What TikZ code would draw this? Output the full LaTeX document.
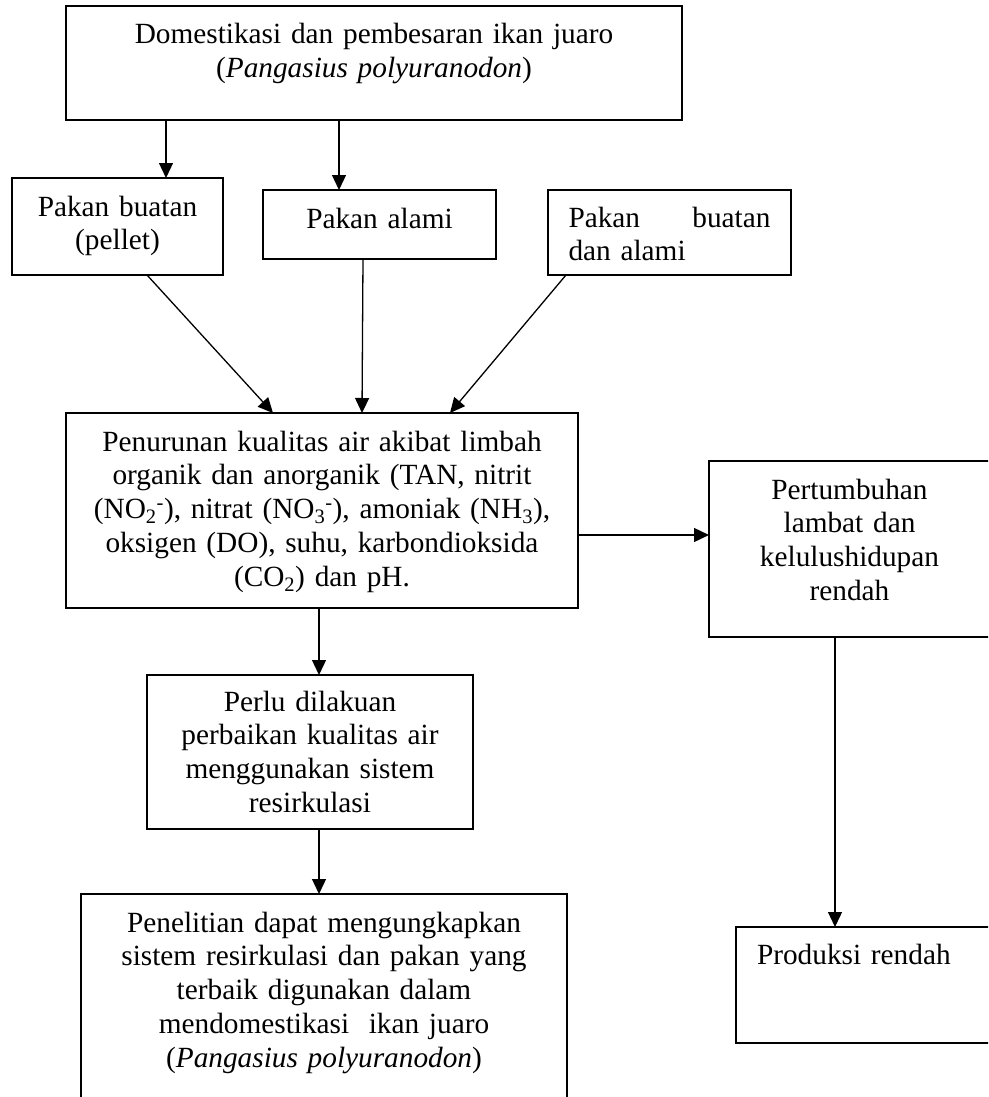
\documentclass[tikz,border=0pt]{standalone}
\usepackage{fontspec}
\setmainfont{Liberation Serif}
\usepackage{tikz}
\usetikzlibrary{arrows.meta,positioning}

\begin{document}
\begin{tikzpicture}[
  x=1pt, y=-1pt,
  box/.style={draw, line width=1.4pt, inner sep=0pt, outer sep=0pt, align=center,
              anchor=north west, text height=38pt,
              font=\fontsize{29.3}{33.9}\selectfont},
  leftbox/.style={box, align=left, inner xsep=20.5pt},
  arrow/.style={-{Triangle[length=15pt,width=14pt]}, line width=1.3pt}
]
  \useasboundingbox (0,0) rectangle (988,1097);
  \clip (0,0) rectangle (988,1097);

  \node[box, text width=616pt, text depth=76pt] (domestikasi) at (66,6)
    {Domestikasi dan pembesaran ikan juaro\\(\textit{Pangasius polyuranodon})};
  \node[box, text width=211pt, text depth=59pt] (pellet) at (12,178)
    {Pakan buatan\\(pellet)};
  \node[box, text width=233pt, text depth=31pt] (alami) at (263,190) {Pakan alami};
  \node[leftbox, text width=202pt, text height=37pt, text depth=48pt] (campur) at (548,190)
    {Pakan\hfill buatan\\dan alami};

  \node[box, text width=512pt, text depth=157pt] (penurunan) at (66,413)
    {Penurunan kualitas air akibat limbah\\
     organik dan anorganik (TAN, nitrit\\
     (NO\textsubscript{2}\textsuperscript{-}), nitrat (NO\textsubscript{3}\textsuperscript{-}), amoniak (NH\textsubscript{3}),\\
     oksigen (DO), suhu, karbondioksida\\
     (CO\textsubscript{2}) dan pH.};
  \node[box, text width=281pt, text depth=138pt] (pertumbuhan) at (709,461)
    {Pertumbuhan\\lambat dan\\kelulushidupan\\rendah};

  \node[box, text width=326pt, text height=36pt, text depth=118pt] (perlu) at (147,675)
    {Perlu dilakuan\\perbaikan kualitas air\\menggunakan sistem\\resirkulasi};
  \node[box, text width=486pt, text depth=214pt] (penelitian) at (81,894)
    {Penelitian dapat mengungkapkan\\
     sistem resirkulasi dan pakan yang\\
     terbaik digunakan dalam\\
     mendomestikasi~ ikan juaro\\
     (\textit{Pangasius polyuranodon})};
  \node[leftbox, text width=212pt, inner xsep=21pt, text height=37pt, text depth=79pt] (produksi) at (736,927)
    {Produksi rendah};

  \draw[arrow] (domestikasi.south -| 166,0) -- (pellet.north -| 166,0);
  \draw[arrow] (domestikasi.south -| 339,0) -- (alami.north -| 339,0);
  \draw[arrow] (pellet.south -| 147,0) -- (penurunan.north -| 273,0);
  \draw[arrow] (alami.south -| 363,0) -- (penurunan.north -| 362,0);
  \draw[arrow] (campur.south -| 566,0) -- (penurunan.north -| 450,0);
  \draw[arrow] (penurunan.east |- 0,535) -- (pertumbuhan.west |- 0,535);
  \draw[arrow] (penurunan.south -| 319,0) -- (perlu.north -| 319,0);
  \draw[arrow] (perlu.south -| 319,0) -- (penelitian.north -| 319,0);
  \draw[arrow] (pertumbuhan.south -| 835,0) -- (produksi.north -| 835,0);
\end{tikzpicture}
\end{document}
